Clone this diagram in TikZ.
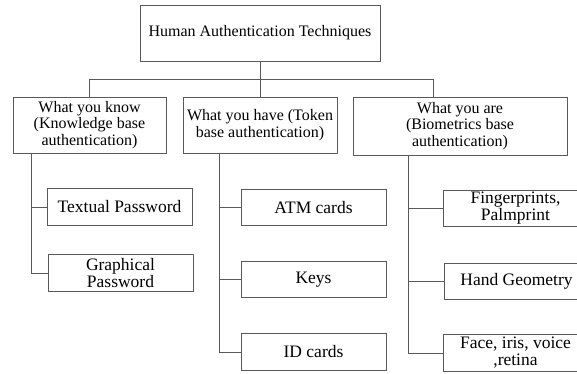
\documentclass[tikz,border=0pt]{standalone}
\usepackage{fontspec}
\setmainfont{Liberation Serif}
\begin{document}
\begin{tikzpicture}[x=1pt,y=-1pt,
  box/.style={draw=black!65,line width=0.9pt,fill=white,inner sep=0pt,align=center,anchor=center},
  topbox/.style={box,minimum width=240pt,minimum height=56pt,font=\fontsize{16}{17}\selectfont},
  midbox/.style={box,minimum height=56pt,font=\fontsize{16}{16.5}\selectfont},
  leafbox/.style={box,minimum width=145pt,minimum height=36.5pt,font=\fontsize{17.5}{17}\selectfont},
  link/.style={draw=black!65,line width=0.9pt}]
\useasboundingbox (0,0) rectangle (577,373);
\clip (0,0) rectangle (577,373);
\fill[white] (0,0) rectangle (577,373);

% root
\node[topbox] (root) at (260,33) {Human Authentication Techniques};

% categories
\node[midbox,minimum width=153pt] (know) at (89.5,125) {What you know\\(Knowledge base\\authentication)};
\node[midbox,minimum width=154pt] (have) at (260,125) {What you have (Token\\base authentication)};
\node[midbox,minimum width=214pt,minimum height=58pt] (are) at (460,126) {What you are\\(Biometrics base\\authentication)};

% leaves: what you know
\node[leafbox] (txt) at (119.5,207) {Textual Password};
\node[leafbox] (gra) at (120.5,273) {Graphical\\Password};

% leaves: what you have
\node[leafbox] (atm) at (313.5,207.5) {ATM cards};
\node[leafbox] (keys) at (313.5,279.5) {Keys};
\node[leafbox] (idc) at (313.5,352) {ID cards};

% leaves: what you are
\node[leafbox] (fin) at (515.5,208.5) {Fingerprints,\\Palmprint};
\node[leafbox] (hand) at (516.5,281.5) {Hand Geometry};
\node[leafbox] (face) at (515.5,353) {Face, iris, voice\\,retina};

% bus between root and categories
\coordinate (bus) at (0,79);
\coordinate (drop3) at (433,0);
\draw[link] (root.south) -- (have.north);
\draw[link] (know.north) -- (know.north |- bus) -- (bus -| drop3) -- (drop3 |- are.north);

% spines
\coordinate (sp1) at (31,0);
\coordinate (sp2) at (219,0);
\coordinate (sp3) at (408,0);
\draw[link] (know.south -| sp1) |- (txt.west);
\draw[link] (know.south -| sp1) |- (gra.west);
\draw[link] (have.south -| sp2) |- (atm.west);
\draw[link] (have.south -| sp2) |- (keys.west);
\draw[link] (have.south -| sp2) |- (idc.west);
\draw[link] (are.south -| sp3) |- (fin.west);
\draw[link] (are.south -| sp3) |- (hand.west);
\draw[link] (are.south -| sp3) |- (face.west);
\end{tikzpicture}
\end{document}
